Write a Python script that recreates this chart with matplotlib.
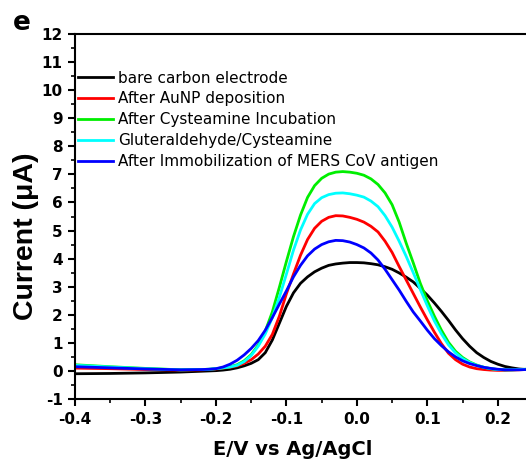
import numpy as np
import matplotlib
matplotlib.use("Agg")
import matplotlib.pyplot as plt
from matplotlib.ticker import MultipleLocator

plt.rcParams['font.family'] = ['DejaVu Sans']

# potential (V vs Ag/AgCl)
potential = [-0.40, -0.35, -0.30, -0.25, -0.22, -0.21,
             -0.20, -0.19, -0.18, -0.17, -0.16, -0.15, -0.14, -0.13, -0.12, -0.11,
             -0.10, -0.09, -0.08, -0.07, -0.06, -0.05, -0.04, -0.03, -0.02, -0.01,
             0.00, 0.01, 0.02, 0.03, 0.04, 0.05, 0.06, 0.07, 0.08, 0.09,
             0.10, 0.11, 0.12, 0.13, 0.14, 0.15, 0.16, 0.17, 0.18, 0.19,
             0.20, 0.21, 0.22, 0.23, 0.24]

# current (uA) for each electrode stage
bare = [-0.10, -0.09, -0.07, -0.04, -0.01, 0.00,
        0.01, 0.03, 0.06, 0.11, 0.18, 0.27, 0.40, 0.65, 1.10, 1.70,
        2.30, 2.78, 3.12, 3.35, 3.53, 3.66, 3.76, 3.81, 3.84, 3.86,
        3.86, 3.85, 3.82, 3.78, 3.71, 3.62, 3.49, 3.34, 3.17, 2.94,
        2.70, 2.42, 2.12, 1.80, 1.46, 1.15, 0.88, 0.65, 0.48, 0.34,
        0.24, 0.16, 0.11, 0.07, 0.05]
aunp = [0.10, 0.08, 0.05, 0.03, 0.04, 0.05,
        0.07, 0.10, 0.13, 0.18, 0.27, 0.40, 0.60, 0.88, 1.30, 1.95,
        2.75, 3.45, 4.12, 4.68, 5.08, 5.33, 5.47, 5.53, 5.52, 5.47,
        5.40, 5.30, 5.15, 4.95, 4.62, 4.22, 3.72, 3.24, 2.76, 2.28,
        1.82, 1.38, 0.97, 0.63, 0.40, 0.24, 0.14, 0.08, 0.05, 0.03,
        0.02, 0.02, 0.03, 0.04, 0.05]
cysteamine = [0.22, 0.15, 0.09, 0.04, 0.05, 0.06,
              0.08, 0.11, 0.15, 0.22, 0.36, 0.58, 0.92, 1.42, 2.10, 2.98,
              3.90, 4.78, 5.55, 6.18, 6.60, 6.86, 7.01, 7.08, 7.10, 7.08,
              7.04, 6.97, 6.84, 6.64, 6.34, 5.92, 5.30, 4.55, 3.85, 3.12,
              2.50, 1.95, 1.45, 1.02, 0.70, 0.48, 0.32, 0.21, 0.13, 0.08,
              0.05, 0.04, 0.04, 0.05, 0.06]
glut = [0.20, 0.14, 0.08, 0.04, 0.05, 0.06,
        0.08, 0.11, 0.14, 0.20, 0.33, 0.55, 0.88, 1.32, 1.90, 2.62,
        3.45, 4.30, 5.02, 5.58, 5.96, 6.17, 6.28, 6.33, 6.34, 6.31,
        6.26, 6.19, 6.05, 5.85, 5.53, 5.12, 4.62, 4.08, 3.50, 2.90,
        2.32, 1.78, 1.32, 0.93, 0.64, 0.44, 0.30, 0.20, 0.13, 0.08,
        0.05, 0.04, 0.04, 0.05, 0.06]
antigen = [0.15, 0.11, 0.07, 0.04, 0.05, 0.06,
           0.08, 0.14, 0.24, 0.38, 0.57, 0.80, 1.08, 1.45, 1.90, 2.38,
           2.85, 3.35, 3.76, 4.10, 4.34, 4.50, 4.60, 4.65, 4.64, 4.59,
           4.50, 4.38, 4.20, 3.95, 3.62, 3.25, 2.88, 2.48, 2.10, 1.78,
           1.45, 1.15, 0.90, 0.68, 0.50, 0.36, 0.26, 0.19, 0.13, 0.09,
           0.06, 0.04, 0.04, 0.04, 0.05]

labels = ["bare carbon electrode", "After AuNP deposition",
          "After Cysteamine Incubation", "Gluteraldehyde/Cysteamine",
          "After Immobilization of MERS CoV antigen"]
colors = ["#000000", "#ff0000", "#00ee00", "#00ffff", "#0000ff"]

fig = plt.figure(figsize=(5.26, 4.59), dpi=100)
ax = fig.add_axes([0.1426, 0.1307, 0.8574, 0.7952])

for y, lab, c in zip([bare, aunp, cysteamine, glut, antigen], labels, colors):
    ax.plot(potential, y, color=c, lw=2.0, label=lab)

ax.set_xlim(-0.4, 0.24)
ax.set_ylim(-1, 12)
ax.xaxis.set_minor_locator(MultipleLocator(0.05))
ax.yaxis.set_minor_locator(MultipleLocator(0.5))
ax.set_xticks([-0.4, -0.3, -0.2, -0.1, 0.0, 0.1, 0.2])
ax.set_xticklabels(["-0.4", "-0.3", "-0.2", "-0.1", "0.0", "0.1", "0.2"],
                   fontweight='bold', fontsize=11)
ax.set_yticks(range(-1, 13))
ax.set_yticklabels([str(v) for v in range(-1, 13)], fontweight='bold', fontsize=11)
ax.tick_params(which='major', direction='out', length=5, width=1.5, pad=4)
ax.tick_params(which='minor', direction='out', length=3, width=1.2)

for s in ['left', 'bottom', 'top']:
    ax.spines[s].set_linewidth(1.5)
ax.spines['right'].set_visible(False)

ax.set_xlabel("E/V vs Ag/AgCl", fontsize=14, fontweight='bold')
ax.xaxis.set_label_coords(0.482, -0.112)
ax.set_ylabel("Current (μA)", fontsize=20.5, fontweight='bold',
              family=['Liberation Sans', 'DejaVu Sans'])
ax.yaxis.set_label_coords(-0.08, 0.447)

leg = ax.legend(loc='upper left', bbox_to_anchor=(0.0, 0.908), frameon=False,
                fontsize=11, handlelength=2.3, handletextpad=0.33,
                labelspacing=0.38, borderaxespad=0.1, borderpad=0.1)

fig.text(0.0247, 0.9336, "e", fontsize=19, fontweight='bold', va='baseline',
         ha='left')

fig.savefig("out.png", dpi=100)
